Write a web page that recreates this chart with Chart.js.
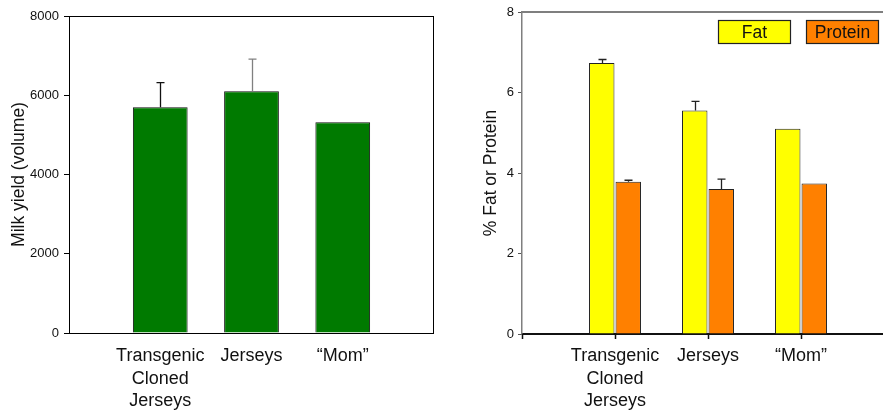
<!DOCTYPE html>
<html>
<head>
<meta charset="utf-8">
<script src="https://cdn.jsdelivr.net/npm/chart.js@4/dist/chart.umd.min.js"></script>
<style>
  html, body { margin: 0; padding: 0; background: #fff; width: 883px; height: 415px; overflow: hidden; }
  .panel { position: absolute; top: 0; height: 415px; }
  #milkWrap { left: 0; width: 450px; }
  #compWrap { left: 460px; width: 450px; }
</style>
</head>
<body>
<div class="panel" id="milkWrap"><canvas id="milk" width="450" height="415"></canvas></div>
<div class="panel" id="compWrap"><canvas id="comp" width="450" height="415"></canvas></div>
<script>
// Groups compared (each entry is one label, split into lines)
const categories = [
  ['Transgenic', 'Cloned', 'Jerseys'],
  ['Jerseys'],
  ['\u201CMom\u201D']
];

// Milk yield (volume) with upper error
const milkYield = [5700, 6100, 5320];
const milkError = [620, 810, null];

// Composition, %
const fatPct = [6.73, 5.55, 5.10];
const fatError = [0.09, 0.23, null];
const proteinPct = [3.78, 3.60, 3.74];
const proteinError = [0.04, 0.25, null];

const milkTicks = [0, 2000, 4000, 6000, 8000];
const pctTicks = [0, 2, 4, 6, 8];

const FONT = '"Liberation Sans", Arial, Helvetica, sans-serif';
Chart.defaults.font.family = FONT;
Chart.defaults.color = '#111';
Chart.defaults.animation = false;

const toPoints = vals => vals.map((v, i) => ({ x: i + 1, y: v }));
const catLabel = v => (v >= 1 && v <= categories.length && Number.isInteger(v)) ? categories[v - 1] : '';

// Upper error bars drawn above each bar
const errorBars = {
  id: 'errorBars',
  afterDatasetsDraw(chart) {
    const ctx = chart.ctx;
    const ys = chart.scales.y;
    chart.data.datasets.forEach((ds, di) => {
      if (!ds.errors) return;
      const meta = chart.getDatasetMeta(di);
      meta.data.forEach((bar, j) => {
        const e = ds.errors[j];
        if (e == null) return;
        const top = ys.getPixelForValue(ds.data[j].y + e);
        const color = (ds.errorColors && ds.errorColors[j]) || '#222';
        const x = Math.round(bar.x) + 0.5;
        ctx.save();
        ctx.strokeStyle = color;
        ctx.lineWidth = 1.3;
        ctx.beginPath();
        ctx.moveTo(x, bar.y);
        ctx.lineTo(x, top);
        ctx.moveTo(x - 4, top);
        ctx.lineTo(x + 4, top);
        ctx.stroke();
        ctx.restore();
      });
    });
  }
};

// Frame lines around the plot area, plus downward category tick marks
const frame = {
  id: 'frame',
  afterDraw(chart, args, opts) {
    const a = chart.chartArea;
    const ctx = chart.ctx;
    ctx.save();
    ctx.strokeStyle = opts.color || '#000';
    ctx.lineWidth = opts.width || 1;
    if (opts.full) {
      ctx.strokeRect(Math.round(a.left) + 0.5, Math.round(a.top) + 0.5,
                     Math.round(a.right - a.left) - 1, Math.round(a.bottom - a.top));
    } else {
      ctx.beginPath();
      ctx.moveTo(a.left, a.top);
      ctx.lineTo(a.right, a.top);
      ctx.stroke();
    }
    if (opts.catTicks) {
      const xs = chart.scales.x;
      ctx.strokeStyle = '#111';
      ctx.lineWidth = 1.5;
      ctx.beginPath();
      for (let i = 0; i <= categories.length; i++) {
        const px = Math.round(xs.getPixelForValue(i)) + 0.5;
        ctx.moveTo(px, a.bottom);
        ctx.lineTo(px, a.bottom + opts.catTicks);
      }
      ctx.stroke();
    }
    ctx.restore();
  }
};

// Legend drawn as labelled colour boxes, right-aligned at the top
const boxLegend = {
  id: 'boxLegend',
  afterDraw(chart, args, opts) {
    const ctx = chart.ctx;
    const a = chart.chartArea;
    const w = opts.boxWidth, h = opts.boxHeight, gap = opts.gap;
    const sets = chart.data.datasets;
    let x = a.right - opts.rightInset - sets.length * w - (sets.length - 1) * gap;
    const y = a.top + opts.topInset;
    ctx.save();
    ctx.font = opts.fontSize + 'px ' + FONT;
    ctx.textAlign = 'center';
    ctx.textBaseline = 'middle';
    sets.forEach(ds => {
      ctx.fillStyle = ds.backgroundColor;
      ctx.fillRect(x, y, w, h);
      ctx.strokeStyle = '#222';
      ctx.lineWidth = 1.2;
      ctx.strokeRect(x + 0.5, y + 0.5, w - 1, h - 1);
      ctx.fillStyle = '#111';
      ctx.fillText(ds.label, x + w / 2, y + h / 2 + 1);
      x += w + gap;
    });
    ctx.restore();
  }
};

// Left panel: milk yield
new Chart(document.getElementById('milk'), {
  type: 'bar',
  data: {
    datasets: [{
      label: 'Milk yield',
      data: toPoints(milkYield),
      errors: milkError,
      errorColors: ['#111', '#808080', '#111'],
      backgroundColor: '#007A00',
      borderColor: '#111',
      borderWidth: 1,
      categoryPercentage: 0.6,
      barPercentage: 1
    }]
  },
  options: {
    responsive: false,
    layout: { padding: { left: 0, top: 16, right: 16, bottom: 0 } },
    plugins: { legend: { display: false }, tooltip: { enabled: false }, frame: { full: true, color: '#000', width: 1 } },
    scales: {
      x: {
        type: 'linear', min: 0, max: 4, offset: false,
        afterBuildTicks: s => { s.ticks = [0, 1, 2, 3, 4].map(v => ({ value: v })); },
        grid: { display: false, drawTicks: false, offset: false },
        border: { display: false },
        ticks: { autoSkip: false, maxRotation: 0, padding: 12, color: '#111',
                 font: { size: 18, lineHeight: 1.25 }, callback: v => catLabel(v) },
        afterFit: s => { s.height = 82; }
      },
      y: {
        min: 0, max: 8000,
        afterBuildTicks: s => { s.ticks = milkTicks.map(v => ({ value: v })); },
        grid: { drawOnChartArea: false, tickLength: 5, color: '#000' },
        border: { display: false },
        ticks: { padding: 5, color: '#111', font: { size: 13 }, callback: v => String(v) },
        title: { display: true, text: 'Milk yield (volume)', color: '#111',
                 font: { size: 17.5 }, padding: { top: 9, bottom: 0 } },
        afterFit: s => { s.width = 69; }
      }
    }
  },
  plugins: [errorBars, frame]
});

// Right panel: fat and protein
new Chart(document.getElementById('comp'), {
  type: 'bar',
  data: {
    datasets: [{
      label: 'Fat',
      data: toPoints(fatPct),
      errors: fatError,
      backgroundColor: '#FFFF00',
      borderColor: '#222',
      borderWidth: 1,
      categoryPercentage: 0.57,
      barPercentage: 0.96
    }, {
      label: 'Protein',
      data: toPoints(proteinPct),
      errors: proteinError,
      backgroundColor: '#FF8000',
      borderColor: '#222',
      borderWidth: 1,
      categoryPercentage: 0.57,
      barPercentage: 0.96
    }]
  },
  options: {
    responsive: false,
    layout: { padding: { left: 0, top: 12, right: 16, bottom: 0 } },
    plugins: {
      legend: { display: false }, tooltip: { enabled: false },
      frame: { full: false, color: '#7F7F7F', width: 2, catTicks: 5 },
      boxLegend: { boxWidth: 73, boxHeight: 24, gap: 15, rightInset: 15, topInset: 8, fontSize: 17.5 }
    },
    scales: {
      x: {
        type: 'linear', min: 0, max: 4, offset: false,
        afterBuildTicks: s => { s.ticks = [0, 1, 2, 3, 4].map(v => ({ value: v })); },
        grid: { display: false, drawTicks: false, offset: false },
        border: { display: true, color: '#111', width: 2 },
        ticks: { autoSkip: false, maxRotation: 0, padding: 11, color: '#111',
                 font: { size: 18, lineHeight: 1.25 }, callback: v => catLabel(v) },
        afterFit: s => { s.height = 81; }
      },
      y: {
        min: 0, max: 8,
        afterBuildTicks: s => { s.ticks = pctTicks.map(v => ({ value: v })); },
        grid: { drawOnChartArea: false, tickLength: 4, color: '#555' },
        border: { display: true, color: '#7F7F7F', width: 1.5 },
        ticks: { padding: 4, color: '#111', font: { size: 13 }, callback: v => String(v) },
        title: { display: true, text: '% Fat or Protein', color: '#111',
                 font: { size: 17.5 }, padding: { top: 21, bottom: 0 } },
        afterFit: s => { s.width = 62; }
      }
    }
  },
  plugins: [errorBars, frame, boxLegend]
});
</script>
</body>
</html>
